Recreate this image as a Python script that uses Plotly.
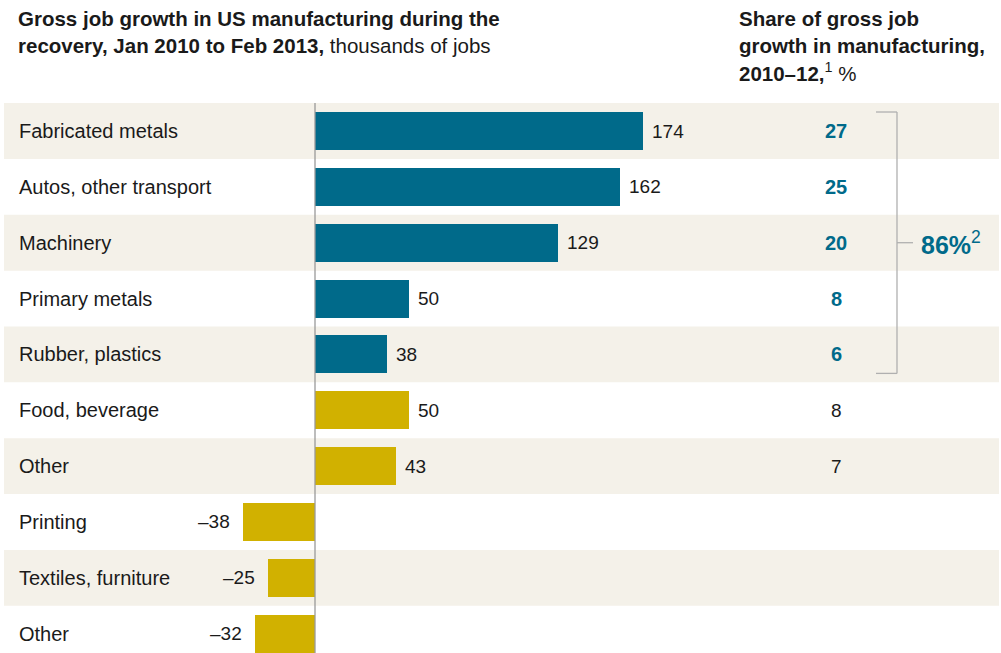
import plotly.graph_objects as go

categories = ["Fabricated metals", "Autos, other transport", "Machinery", "Primary metals",
              "Rubber, plastics", "Food, beverage", "Other", "Printing", "Textiles, furniture", "Other"]
values = [174, 162, 129, 50, 38, 50, 43, -38, -25, -32]
shares = [27, 25, 20, 8, 6, 8, 7, None, None, None]
highlight = [True, True, True, True, True, False, False, False, False, False]
bracket_total = "86%"

W, H = 1001, 653
TEAL = "#006a8a"
GOLD = "#d1b100"
BAND = "#f4f1e9"
TXT = "#1a1a1a"
FONT = "Liberation Sans"

# pixel mapping
x0_px, px_per_unit = 315, (643 - 315) / 174
row0_px, pitch = 131, 55.85
xr = [-x0_px / px_per_unit, (W - x0_px) / px_per_unit]
yr = [(H - row0_px) / pitch, (0 - row0_px) / pitch]

def px(x):
    return x / W

def py(y):
    return 1 - y / H

n = len(categories)
ys = list(range(n))
colors = [TEAL if h else GOLD for h in highlight]

fig = go.Figure()
fig.add_trace(go.Bar(
    x=values, y=ys, orientation="h", marker=dict(color=colors, line=dict(width=0)),
    width=0.68, hoverinfo="skip", showlegend=False,
))

shapes = []
for i in ys:
    if i % 2 == 0:
        shapes.append(dict(type="rect", xref="paper", yref="y", x0=px(4), x1=px(999),
                           y0=i - 0.5, y1=i + 0.5, fillcolor=BAND, line=dict(width=0), layer="below"))
# zero line
shapes.append(dict(type="line", xref="x", yref="y", x0=0, x1=0, y0=-0.5, y1=yr[0],
                   line=dict(color="#9a9a9a", width=1.3)))
# bracket
bx = px(897)
shapes += [
    dict(type="line", xref="paper", yref="y", x0=px(876), x1=bx, y0=-0.34, y1=-0.34,
         line=dict(color="#b0b0b0", width=1.3)),
    dict(type="line", xref="paper", yref="y", x0=bx, x1=bx, y0=-0.34, y1=4.34,
         line=dict(color="#b0b0b0", width=1.3)),
    dict(type="line", xref="paper", yref="y", x0=px(876), x1=bx, y0=4.34, y1=4.34,
         line=dict(color="#b0b0b0", width=1.3)),
    dict(type="line", xref="paper", yref="y", x0=bx, x1=px(913), y0=2, y1=2,
         line=dict(color="#b0b0b0", width=1.3)),
]

ann = []
for i, (c, v, s, h) in enumerate(zip(categories, values, shares, highlight)):
    ann.append(dict(x=px(17), xref="paper", y=i, yref="y", text=c, showarrow=False,
                    xanchor="left", yanchor="middle", font=dict(size=20, color=TXT, family=FONT)))
    lab = str(v) if v >= 0 else "–" + str(-v)
    ann.append(dict(x=v, xref="x", y=i, yref="y", text=lab, showarrow=False,
                    xanchor="left" if v >= 0 else "right", xshift=7 if v >= 0 else -11,
                    yanchor="middle", font=dict(size=19, color=TXT, family=FONT)))
    if s is not None:
        t = f"<b>{s}</b>" if h else str(s)
        ann.append(dict(x=px(836), xref="paper", y=i, yref="y", text=t, showarrow=False,
                        xanchor="center", yanchor="middle",
                        font=dict(size=20 if h else 19, color=TEAL if h else TXT, family=FONT)))

ann.append(dict(x=px(919), xref="paper", y=2, yref="y",
                text=f"<b>{bracket_total}</b><sup>2</sup>", showarrow=False,
                xanchor="left", yanchor="middle", font=dict(size=25, color=TEAL, family=FONT)))

title_left = ["<b>Gross job growth in US manufacturing during the</b>",
              "<b>recovery, Jan 2010 to Feb 2013,</b> thousands of jobs"]
title_right = ["<b>Share of gross job</b>", "<b>growth in manufacturing,</b>",
               "<b>2010–12,</b><sup>1</sup> %"]
for k, t in enumerate(title_left):
    ann.append(dict(x=px(16), xref="paper", y=py(18 + 27 * k), yref="paper", text=t,
                    showarrow=False, xanchor="left", yanchor="middle",
                    font=dict(size=20.5, color=TXT, family=FONT)))
for k, t in enumerate(title_right):
    ann.append(dict(x=px(737), xref="paper", y=py(18 + 27 * k), yref="paper", text=t,
                    showarrow=False, xanchor="left", yanchor="middle",
                    font=dict(size=20.5, color=TXT, family=FONT)))

fig.update_layout(
    width=W, height=H, margin=dict(l=0, r=0, t=0, b=0),
    paper_bgcolor="white", plot_bgcolor="rgba(0,0,0,0)",
    xaxis=dict(range=xr, visible=False, fixedrange=True),
    yaxis=dict(range=yr, visible=False, fixedrange=True),
    shapes=shapes, annotations=ann, bargap=0,
)
fig.write_html("out.html", config={"displayModeBar": False},
               post_script="document.body.style.margin='0';document.body.style.overflow='hidden';")
